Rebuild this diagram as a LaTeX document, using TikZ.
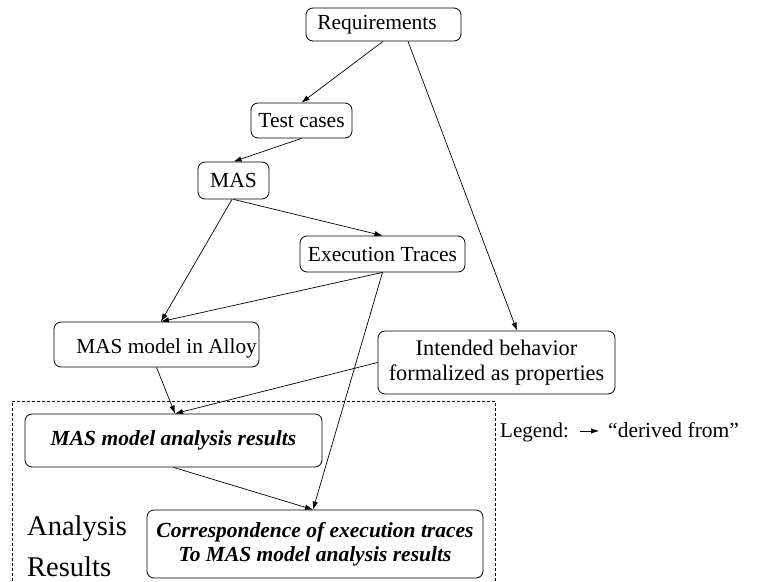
\documentclass[tikz,border=0pt]{standalone}
\usepackage{fontspec}
\setmainfont{Liberation Serif}
\usetikzlibrary{arrows.meta}
\begin{document}
\begin{tikzpicture}[x=1pt,y=-1pt,
  box/.style={draw=black,line width=0.8pt,rounded corners=7pt,inner sep=0pt,
    font=\fontsize{21.5}{24.5}\selectfont},
  conn/.style={line width=0.7pt,-{Latex[length=8pt,width=5.5pt]}},
  frame/.style={line width=0.7pt,dash pattern=on 3pt off 2pt}]
\useasboundingbox (0,0) rectangle (765,581);
% nodes
\node[box,minimum width=155pt,minimum height=33pt] (req) at (383.5,24.5) {Requirements\hspace*{13pt}};
\node[box,minimum width=101pt,minimum height=35pt] (tc) at (301.5,120.5) {Test cases};
\node[box,minimum width=71pt,minimum height=37pt] (mas) at (233.5,180.5) {MAS};
\node[box,minimum width=165pt,minimum height=36pt] (ex) at (382.5,254) {Execution Traces};
\node[box,minimum width=205pt,minimum height=45pt] (alloy) at (156.5,344.5) {};
\node[anchor=base east,inner sep=0pt,font=\fontsize{21.3}{24.5}\selectfont] (alloyt) at (257,353) {MAS model in Alloy};
\node[box,minimum width=237pt,minimum height=63pt,align=center,font=\fontsize{22.3}{25}\selectfont] (ib) at (496.5,362.5) {Intended behavior\\formalized as properties};
\node[box,minimum width=297pt,minimum height=53pt,font=\fontsize{21.5}{24.5}\selectfont\bfseries\itshape] (res) at (173.5,440.5) {MAS model analysis results};
\node[box,minimum width=336pt,minimum height=68pt,align=center,font=\fontsize{21.5}{24.5}\selectfont\bfseries\itshape] (corr) at (315,544) {Correspondence of execution traces\\To MAS model analysis results};
% frame
\coordinate (f1) at (12,581);
\coordinate (f2) at (12,401);
\coordinate (f3) at (495,401);
\coordinate (f4) at (495,581);
\draw[frame] (f1) -- (f2) -- (f3) -- (f4);
\node[anchor=base west,inner sep=0pt,font=\fontsize{28.5}{30}\selectfont] (ar1) at (27,535) {Analysis};
\node[anchor=base west,inner sep=0pt,font=\fontsize{28.5}{30}\selectfont] (ar2) at (27,576) {Results};
% legend
\node[anchor=base west,font=\fontsize{21}{24}\selectfont,inner sep=0pt] (lg) at (500,437) {Legend:};
\coordinate (la) at (580,431);
\coordinate (lb) at (599,431);
\draw[conn] (la) -- (lb);
\node[anchor=base west,font=\fontsize{21.5}{24}\selectfont,inner sep=0pt] (df) at (608,437) {``derived from''};
% connectors
\draw[conn] ([xshift=-0.5pt]req.south) -- (tc.north);
\draw[conn] ([xshift=24.5pt]req.south) -- ([xshift=20.5pt]ib.north);
\draw[conn] (tc.south) -- (mas.north);
\draw[conn] (mas.south) -- (ex.north);
\draw[conn] ([xshift=-1.5pt]mas.south) -- ([xshift=4.5pt]alloy.north);
\draw[conn] (ex.south) -- ([xshift=4.5pt]alloy.north);
\draw[conn] (ex.south) -- ([xshift=-2pt]corr.north);
\draw[conn] (alloy.south) -- ([xshift=1.5pt]res.north);
\draw[conn] (ib.west) -- ([xshift=1.5pt]res.north);
\draw[conn] (res.south) -- ([xshift=-2pt]corr.north);
\end{tikzpicture}
\end{document}
